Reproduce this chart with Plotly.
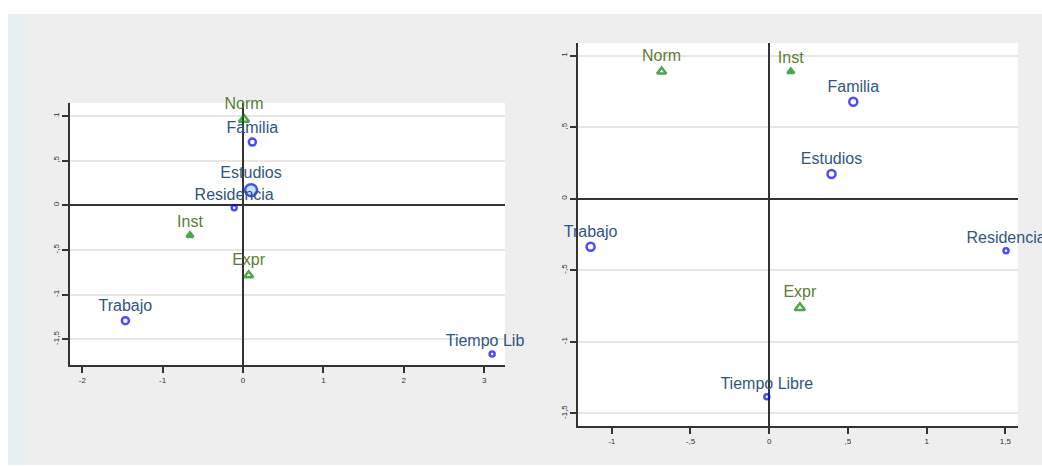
import plotly.graph_objects as go

W, H = 1042, 466

# ---------------- data ----------------
row_labels_left = ["Familia", "Estudios", "Residencia", "Trabajo", "Tiempo Libre"]
row_x_left = [0.116, 0.10, -0.11, -1.464, 3.10]
row_y_left = [0.708, 0.17, -0.027, -1.292, -1.667]

col_labels_left = ["Norm", "Inst", "Expr"]
col_x_left = [0.0125, -0.66, 0.07]
col_y_left = [0.96, -0.337, -0.783]

row_labels_right = ["Familia", "Estudios", "Residencia", "Trabajo", "Tiempo Libre"]
row_x_right = [0.534, 0.396, 1.504, -1.134, -0.015]
row_y_right = [0.678, 0.173, -0.364, -0.336, -1.385]

col_labels_right = ["Norm", "Inst", "Expr"]
col_x_right = [-0.683, 0.137, 0.195]
col_y_right = [0.89, 0.89, -0.762]

xticks_left = [-2, -1, 0, 1, 2, 3]
xticklabels_left = ["-2", "-1", "0", "1", "2", "3"]
yticks = [1, 0.5, 0, -0.5, -1, -1.5]
yticklabels = ["1", ",5", "0", "-,5", "-1", "-1,5"]
xticks_right = [-1, -0.5, 0, 0.5, 1, 1.5]
xticklabels_right = ["-1", "-,5", "0", ",5", "1", "1,5"]

# ---------------- styles ----------------
BLUE = "#0000ff"
GREEN = "#008000"
ROW_TXT = "#2f5683"
COL_TXT = "#5c7d33"
FONT = "Liberation Sans, Arial, sans-serif"
TXT_SIZE = 16

row_sizes_left = [7, 12, 5, 7, 5]
row_fill_left = ["white", "#add8e6", "white", "white", "white"]
row_sizes_right = [8, 8, 5, 8, 5]
col_sym_left = ["triangle-up-open", "triangle-up", "triangle-up-open"]
col_sizes_left = [9, 6, 8]
col_sym_right = ["triangle-up-open", "triangle-up", "triangle-up-open"]
col_sizes_right = [8, 6, 9]

fig = go.Figure()

# left panel
fig.add_trace(go.Scatter(
    x=row_x_left, y=row_y_left, text=row_labels_left, mode="markers+text",
    textposition="top center", cliponaxis=False,
    textfont=dict(family=FONT, size=TXT_SIZE, color=ROW_TXT),
    marker=dict(symbol="circle", size=row_sizes_left, color=row_fill_left,
                line=dict(color=BLUE, width=2.5)),
    xaxis="x", yaxis="y", showlegend=False, hoverinfo="text"))
fig.add_trace(go.Scatter(
    x=col_x_left, y=col_y_left, text=col_labels_left, mode="markers+text",
    textposition="top center", cliponaxis=False,
    textfont=dict(family=FONT, size=TXT_SIZE, color=COL_TXT),
    marker=dict(symbol=col_sym_left, size=col_sizes_left, color=GREEN,
                line=dict(color=GREEN, width=2.5)),
    xaxis="x", yaxis="y", showlegend=False, hoverinfo="text"))

# right panel
fig.add_trace(go.Scatter(
    x=row_x_right, y=row_y_right, text=row_labels_right, mode="markers+text",
    textposition="top center", cliponaxis=False,
    textfont=dict(family=FONT, size=TXT_SIZE, color=ROW_TXT),
    marker=dict(symbol="circle", size=row_sizes_right, color="white",
                line=dict(color=BLUE, width=2.5)),
    xaxis="x2", yaxis="y2", showlegend=False, hoverinfo="text"))
fig.add_trace(go.Scatter(
    x=col_x_right, y=col_y_right, text=col_labels_right, mode="markers+text",
    textposition="top center", cliponaxis=False,
    textfont=dict(family=FONT, size=TXT_SIZE, color=COL_TXT),
    marker=dict(symbol=col_sym_right, size=col_sizes_right, color=GREEN,
                line=dict(color=GREEN, width=2.5)),
    xaxis="x2", yaxis="y2", showlegend=False, hoverinfo="text"))


def px_x(a, b):
    return [a / W, b / W]


def px_y(top, bottom):
    return [1 - bottom / H, 1 - top / H]


axis_common = dict(
    showline=True, linecolor="#333333", linewidth=2,
    ticks="outside", ticklen=6, tickwidth=1.5, tickcolor="#333333",
    tickfont=dict(family=FONT, size=8, color="#333333"),
    zeroline=True, zerolinecolor="#333333", zerolinewidth=2,
)

fig.update_layout(
    width=W, height=H,
    margin=dict(l=0, r=0, t=0, b=0),
    paper_bgcolor="#eeeeee", plot_bgcolor="white",
    xaxis=dict(domain=px_x(70, 505), range=[-2.153, 3.26], anchor="y",
               tickvals=xticks_left, ticktext=xticklabels_left,
               showgrid=False, **axis_common),
    yaxis=dict(domain=px_y(103, 365), range=[-1.789, 1.146], anchor="x",
               tickvals=yticks, ticktext=yticklabels, tickangle=-90,
               showgrid=True, gridcolor="#e6e6e6", gridwidth=2, **axis_common),
    xaxis2=dict(domain=px_x(578, 1018), range=[-1.214, 1.58], anchor="y2",
                tickvals=xticks_right, ticktext=xticklabels_right,
                showgrid=False, **axis_common),
    yaxis2=dict(domain=px_y(43, 426), range=[-1.589, 1.089], anchor="x2",
                tickvals=yticks, ticktext=yticklabels, tickangle=-90,
                showgrid=True, gridcolor="#e6e6e6", gridwidth=2, **axis_common),
    shapes=[
        dict(type="rect", xref="paper", yref="paper", x0=0, x1=1,
             y0=1 - 14 / H, y1=1, fillcolor="white", line_width=0, layer="below"),
        dict(type="rect", xref="paper", yref="paper", x0=0, x1=1,
             y0=0, y1=1 / H, fillcolor="white", line_width=0, layer="below"),
        dict(type="rect", xref="paper", yref="paper", x0=0, x1=8 / W,
             y0=0, y1=1, fillcolor="white", line_width=0, layer="below"),
        dict(type="rect", xref="paper", yref="paper", x0=8 / W, x1=24 / W,
             y0=1 / H, y1=1 - 14 / H, fillcolor="#e6f0f2", line_width=0, layer="below"),
        # the left graph's region ends here, clipping its overflowing label
        dict(type="rect", xref="paper", yref="paper", x0=525 / W, x1=552 / W,
             y0=1 - 350 / H, y1=1 - 325 / H, fillcolor="#eeeeee", line_width=0, layer="above"),
    ],
)

fig.write_html(
    "out.html",
    config={"displayModeBar": False},
    post_script="document.body.style.margin='0';document.body.style.overflow='hidden';",
)
